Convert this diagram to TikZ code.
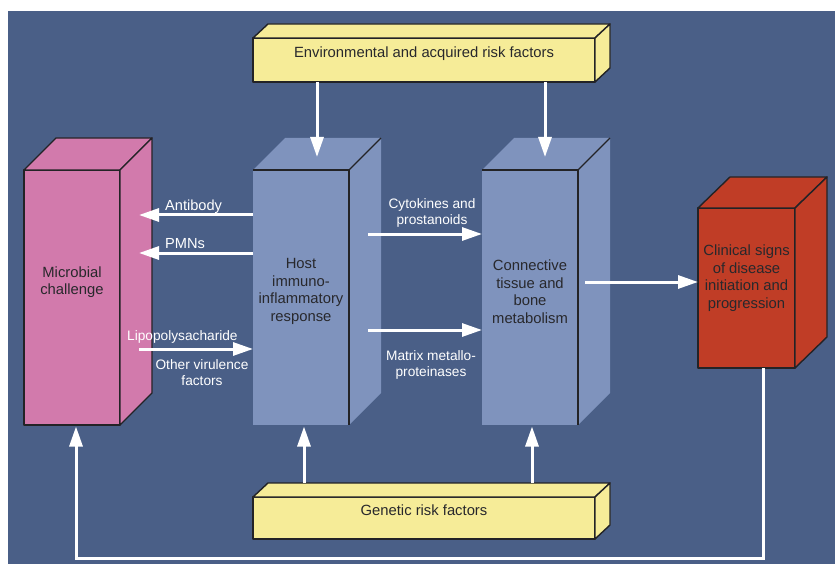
\documentclass[tikz,border=0pt]{standalone}
\usepackage{fontspec}
\setmainfont{Liberation Sans}
\usetikzlibrary{arrows.meta,calc}
\definecolor{bgc}{RGB}{74,95,135}
\definecolor{hostc}{RGB}{127,147,189}
\definecolor{pinkc}{RGB}{210,122,172}
\definecolor{yelc}{RGB}{246,236,152}
\definecolor{redc}{RGB}{192,61,38}
\definecolor{edgec}{RGB}{35,35,38}
\definecolor{txtc}{RGB}{40,40,44}
\tikzset{
  face/.style={rectangle, inner sep=0pt, outer sep=0pt},
  solid3d/.style={draw=edgec, line width=1.4pt, line join=round},
  boxtxt/.style={inner sep=0pt, align=center, text=txtc, font=\fontsize{14.8}{17.5}\selectfont},
  lbl/.style={inner sep=0pt, align=center, text=white, font=\fontsize{13.7}{16}\selectfont},
  biglbl/.style={lbl, font=\fontsize{14.6}{16}\selectfont},
  flow/.style={draw=white, line width=3pt, -{Triangle[length=20pt,width=13pt]}}
}
\begin{document}
\begin{tikzpicture}[x=1pt,y=-1pt]
\useasboundingbox (0,0) rectangle (835,564);
\fill[white] (0,0) rectangle (835,564);
\fill[bgc] (8,11) rectangle (835,564);

% ---- front faces
\node[face, minimum width=96pt, minimum height=255pt] (micro) at (72,297.5) {};
\node[face, minimum width=96pt, minimum height=255pt] (host) at (301,297.5) {};
\node[face, minimum width=96pt, minimum height=255pt] (conn) at (530,297.5) {};
\node[face, minimum width=97pt, minimum height=160pt] (clin) at (746.5,288) {};
\node[face, minimum width=342pt, minimum height=44pt] (env) at (424,60) {};
\node[face, minimum width=342pt, minimum height=42pt] (gen) at (424,518) {};

% ---- microbial box (pink)
\filldraw[solid3d, fill=pinkc] (micro.north west) rectangle (micro.south east);
\filldraw[solid3d, fill=pinkc] (micro.north west) -- ($(micro.north west)+(32,-32)$) -- ($(micro.north east)+(32,-32)$) -- (micro.north east) -- cycle;
\filldraw[solid3d, fill=pinkc] (micro.north east) -- ($(micro.north east)+(32,-32)$) -- ($(micro.south east)+(32,-32)$) -- (micro.south east) -- cycle;

% ---- host box (blue, partial edges)
\fill[hostc] (host.north west) rectangle (host.south east);
\fill[hostc] (host.north west) -- ($(host.north west)+(32,-32)$) -- ($(host.north east)+(32,-32)$) -- ($(host.south east)+(32,-32)$) -- (host.south east) -- cycle;
\draw[draw=edgec, line width=1.2pt, line join=round] (host.north west) -- (host.north east) -- (host.south east);
\draw[draw=edgec, line width=1.2pt] (host.north east) -- ($(host.north east)+(32,-32)$);

% ---- connective box
\fill[hostc] (conn.north west) rectangle (conn.south east);
\fill[hostc] (conn.north west) -- ($(conn.north west)+(32,-32)$) -- ($(conn.north east)+(32,-32)$) -- ($(conn.south east)+(32,-32)$) -- (conn.south east) -- cycle;
\draw[draw=edgec, line width=1.2pt, line join=round] (conn.north west) -- (conn.north east) -- (conn.south east);
\draw[draw=edgec, line width=1.2pt] (conn.north east) -- ($(conn.north east)+(32,-32)$);

% ---- clinical box (red)
\filldraw[solid3d, fill=redc] (clin.north west) rectangle (clin.south east);
\filldraw[solid3d, fill=redc] (clin.north west) -- ($(clin.north west)+(32,-31)$) -- ($(clin.north east)+(32,-31)$) -- (clin.north east) -- cycle;
\filldraw[solid3d, fill=redc] (clin.north east) -- ($(clin.north east)+(32,-31)$) -- ($(clin.south east)+(32,-31)$) -- (clin.south east) -- cycle;

% ---- yellow boxes
\foreach \b in {env,gen}{
  \filldraw[solid3d, fill=yelc] (\b.north west) rectangle (\b.south east);
  \filldraw[solid3d, fill=yelc] (\b.north west) -- ($(\b.north west)+(15,-14)$) -- ($(\b.north east)+(15,-14)$) -- (\b.north east) -- cycle;
  \filldraw[solid3d, fill=yelc] (\b.north east) -- ($(\b.north east)+(15,-14)$) -- ($(\b.south east)+(15,-14)$) -- (\b.south east) -- cycle;
}

% ---- box texts
\node[boxtxt] (microT) at (72,282) {Microbial\\challenge};
\node[boxtxt] (hostT) at (301,291.5) {Host\\immuno-\\inflammatory\\response};
\node[boxtxt] (connT) at (530,291.5) {Connective\\tissue and\\bone\\metabolism};
\node[boxtxt] (clinT) at (746.5,278) {Clinical signs\\of disease\\initiation and\\progression};
\node[boxtxt] (envT) at (424,53.5) {Environmental and acquired risk factors};
\node[boxtxt] (genT) at (424,510.5) {Genetic risk factors};

% ---- connectors
\draw[flow] ($(env.south west)+(64,0)$) -- ($(host.north west)+(64,-13)$);
\draw[flow] ($(env.south west)+(292,0)$) -- ($(conn.north west)+(63,-13)$);
\draw[flow] ($(gen.north west)+(51,-14)$) -- ($(host.south west)+(51,1.5)$);
\draw[flow] ($(gen.north west)+(279,-14)$) -- ($(conn.south west)+(50,1.5)$);
\draw[flow] ($(host.west)+(0,-82.5)$) -- ($(micro.east)+(19,-82.5)$);
\draw[flow] ($(host.west)+(0,-44.5)$) -- ($(micro.east)+(19,-44.5)$);
\draw[flow] ($(micro.east)+(19,51.5)$) -- ($(host.west)+(0,51.5)$);
\draw[flow] ($(host.east)+(19,-63.5)$) -- ($(conn.west)+(0,-63.5)$);
\draw[flow] ($(host.east)+(19,32.5)$) -- ($(conn.west)+(0,32.5)$);
\draw[flow] ($(conn.east)+(7,-15.5)$) -- ($(clin.west)+(0,-6)$);
\draw[flow, line join=miter] ($(clin.south)+(16.5,0)$) -- ++(0,190) -| ($(micro.south)+(4,1.5)$);

% ---- connector labels
\node[biglbl, anchor=base west] (abL) at (165,210.5) {Antibody};
\node[biglbl, anchor=base west] (pmnL) at (165,248.3) {PMNs};
\node[lbl, anchor=base west] (lpsL) at (127,340) {Lipopolysacharide};
\node[lbl] (virL) at (202,372.5) {Other virulence\\factors};
\node[lbl] (cytL) at (432,212.5) {Cytokines and\\prostanoids};
\node[lbl] (mmpL) at (431,365) {Matrix metallo-\\proteinases};
\end{tikzpicture}
\end{document}
